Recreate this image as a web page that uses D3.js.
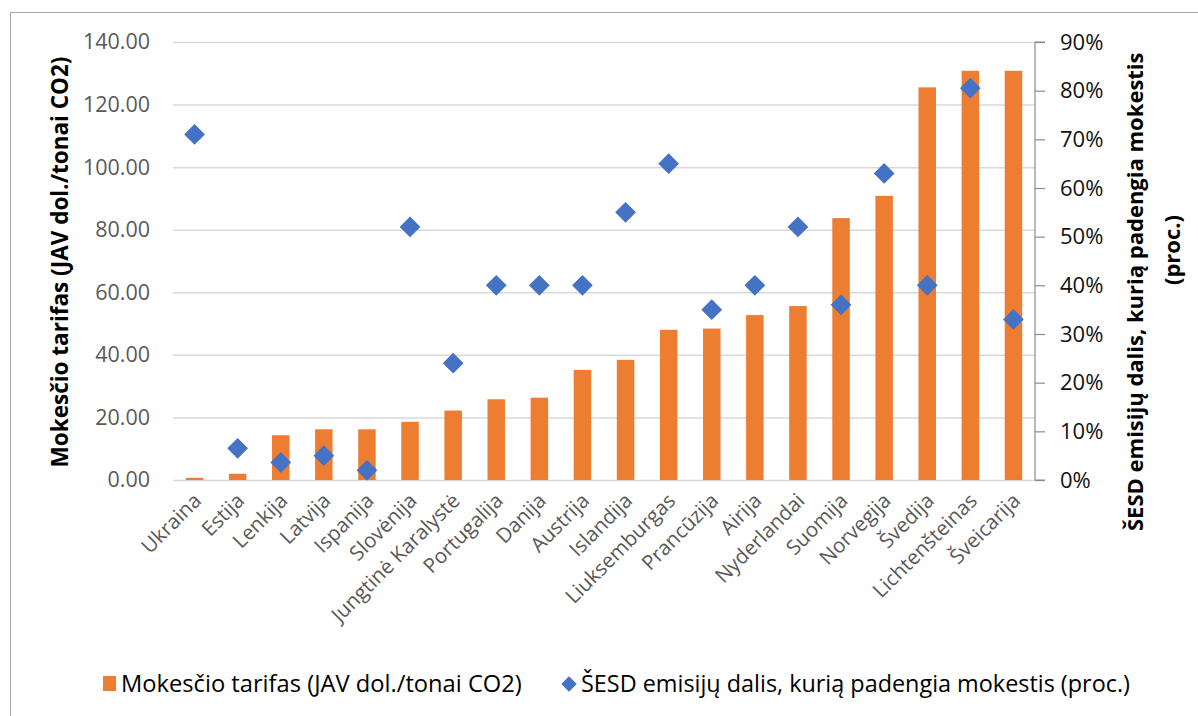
<!DOCTYPE html>
<html>
<head>
<meta charset="utf-8">
<script src="https://cdn.jsdelivr.net/npm/d3@7"></script>
<style>
  html, body { margin: 0; padding: 0; background: #fff; }
  svg { display: block; }
  text { font-family: "Open Sans", "DejaVu Sans", sans-serif; }
</style>
</head>
<body>
<svg id="chart" width="1198" height="716"></svg>
<script>
// Countries, ordered by carbon tax rate
const countries = ["Ukraina", "Estija", "Lenkija", "Latvija", "Ispanija", "Slovėnija",
  "Jungtinė Karalystė", "Portugalija", "Danija", "Austrija", "Islandija", "Liuksemburgas",
  "Prancūzija", "Airija", "Nyderlandai", "Suomija", "Norvegija", "Švedija",
  "Lichtenšteinas", "Šveicarija"];

// Tax rate, USD per tonne CO2
const taxRate = [0.7, 2.0, 14.3, 16.2, 16.2, 18.6, 22.2, 25.8, 26.3, 35.2, 38.4, 48.0,
  48.4, 52.7, 55.6, 83.7, 90.8, 125.5, 130.8, 130.8];

// Share of GHG emissions covered by the tax
const coverage = [0.71, 0.065, 0.036, 0.05, 0.02, 0.52, 0.24, 0.40, 0.40, 0.40, 0.55, 0.65,
  0.35, 0.40, 0.52, 0.36, 0.63, 0.40, 0.805, 0.33];

const leftTicks = [0, 20, 40, 60, 80, 100, 120, 140];
const rightTicks = [0, 0.1, 0.2, 0.3, 0.4, 0.5, 0.6, 0.7, 0.8, 0.9];

const barName = "Mokesčio tarifas (JAV dol./tonai CO2)";
const dotName = "ŠESD emisijų dalis, kurią padengia mokestis (proc.)";
const leftTitle = "Mokesčio tarifas (JAV dol./tonai CO2)";
const rightTitle = ["ŠESD emisijų dalis, kurią padengia mokestis", "(proc.)"];

const ORANGE = "#ED7D31", BLUE = "#4472C4", GRID = "#d9d9d9", TICK = "#595959";

const svg = d3.select("#chart");
const plot = { left: 173, right: 1035, top: 42, bottom: 480 };

// outer chart border
svg.append("rect")
  .attr("x", 10.5).attr("y", 12.5).attr("width", 1200).attr("height", 720)
  .attr("fill", "none").attr("stroke", "#a6a6a6").attr("stroke-width", 1);

const x = d3.scaleBand().domain(countries)
  .range([plot.left, plot.right]).paddingInner(0.594).paddingOuter(0.297);
const yL = d3.scaleLinear().domain([0, 140]).range([plot.bottom, plot.top]);
const yR = d3.scaleLinear().domain([0, 0.9]).range([plot.bottom, plot.top]);

// gridlines from the left axis
const gridAxis = d3.axisLeft(yL).tickValues(leftTicks)
  .tickSize(-(plot.right - plot.left)).tickFormat("");
const grid = svg.append("g").attr("transform", `translate(${plot.left},0)`).call(gridAxis);
grid.select(".domain").remove();
grid.selectAll(".tick line").attr("stroke", GRID).attr("stroke-width", 1.5);

// left axis labels
const leftAxis = d3.axisLeft(yL).tickValues(leftTicks).tickSize(0).tickPadding(23)
  .tickFormat(d3.format(".2f"));
const gl = svg.append("g").attr("transform", `translate(${plot.left},0)`).call(leftAxis);
gl.select(".domain").remove();
gl.selectAll("text").attr("fill", TICK).attr("font-size", 21.5)
  .style("font-family", "'Open Sans', sans-serif");

// bars
svg.append("g").selectAll("rect").data(countries).join("rect")
  .attr("x", d => x(d))
  .attr("width", x.bandwidth())
  .attr("y", (d, i) => yL(taxRate[i]))
  .attr("height", (d, i) => yL(0) - yL(taxRate[i]))
  .attr("fill", ORANGE);

// right axis
const rightAxis = d3.axisRight(yR).tickValues(rightTicks).tickSize(10).tickPadding(15)
  .tickFormat(d3.format(".0%"));
const gr = svg.append("g").attr("transform", `translate(${plot.right},0)`).call(rightAxis);
gr.select(".domain").attr("stroke", "#8c8c8c").attr("stroke-width", 1.2)
  .attr("d", `M10,${plot.bottom}H0V${plot.top}H10`);
gr.selectAll(".tick line").attr("stroke", "#8c8c8c").attr("stroke-width", 1.2);
gr.selectAll("text").attr("fill", "#111").attr("font-size", 22)
  .style("font-family", "'Open Sans', sans-serif");

// coverage markers (diamonds)
const diamond = d3.symbol().type(d3.symbolSquare).size(215);
svg.append("g").selectAll("path").data(countries).join("path")
  .attr("d", diamond)
  .attr("transform", (d, i) => `translate(${x(d) + x.bandwidth() / 2},${yR(coverage[i])}) rotate(45)`)
  .attr("fill", BLUE);

// category labels, rotated
svg.append("g").selectAll("text").data(countries).join("text")
  .attr("transform", d => `translate(${x(d) + x.bandwidth() / 2 + 8},${plot.bottom + 22}) rotate(-45)`)
  .attr("text-anchor", "end")
  .attr("font-size", 20.5)
  .attr("fill", TICK)
  .text(d => d);

// axis titles
svg.append("text")
  .attr("transform", `translate(68,262) rotate(-90)`)
  .attr("text-anchor", "middle")
  .attr("font-size", 22.5).attr("font-weight", "bold").attr("fill", "#000")
  .text(leftTitle);

svg.append("text")
  .attr("transform", `translate(1143,531) rotate(-90)`)
  .attr("text-anchor", "start")
  .attr("font-size", 22).attr("font-weight", "bold").attr("fill", "#000")
  .text(rightTitle[0]);
svg.append("text")
  .attr("transform", `translate(1180,250) rotate(-90)`)
  .attr("text-anchor", "middle")
  .attr("font-size", 22).attr("font-weight", "bold").attr("fill", "#000")
  .text(rightTitle[1]);

// legend
const lg = svg.append("g");
lg.append("rect").attr("x", 103).attr("y", 676).attr("width", 13).attr("height", 15).attr("fill", ORANGE);
lg.append("text").attr("x", 121).attr("y", 692).attr("font-size", 23.7).attr("fill", "#000").text(barName);
lg.append("path").attr("d", d3.symbol().type(d3.symbolSquare).size(120))
  .attr("transform", "translate(569,684) rotate(45)").attr("fill", BLUE);
lg.append("text").attr("x", 581).attr("y", 692).attr("font-size", 23.4).attr("fill", "#000").text(dotName);
</script>
</body>
</html>
